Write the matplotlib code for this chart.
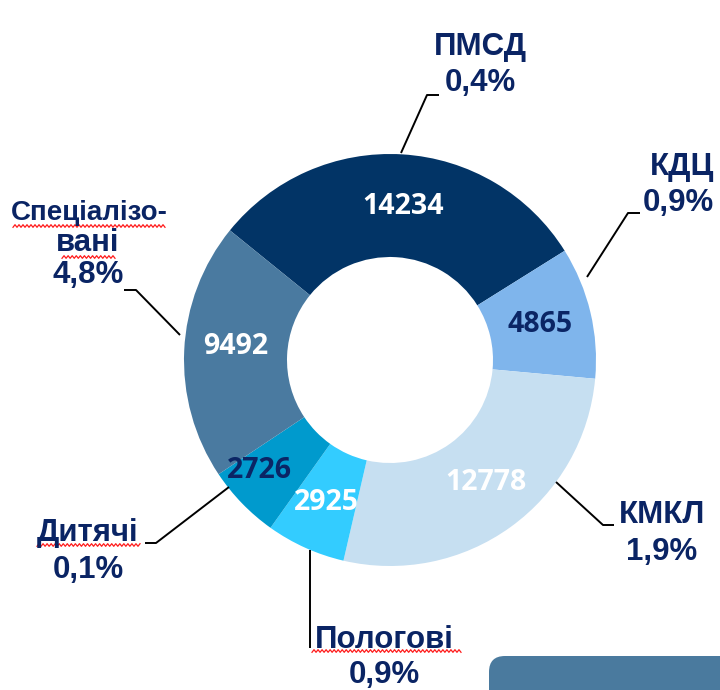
import numpy as np
import matplotlib
matplotlib.use("Agg")
import matplotlib.pyplot as plt
from matplotlib.patches import FancyBboxPatch

# ---- data ----
categories = ["ПМСД", "КДЦ", "КМКЛ", "Пологові", "Дитячі", "Спеціалізо-\nвані"]
values = [14234, 4865, 12778, 2925, 2726, 9492]
shares = ["0,4%", "0,9%", "1,9%", "0,9%", "0,1%", "4,8%"]
colors = ["#023466", "#7FB5EC", "#C6DFF1", "#33CCFF", "#009ACD", "#4A7AA0"]
value_colors = ["white", "#0B2565", "white", "white", "#0B2565", "white"]

W, H = 720, 690
fig = plt.figure(figsize=(7.2, 6.9), dpi=100)
ax = fig.add_axes([0, 0, 1, 1])

def Y(py):
    return H - py

cx, cy, R = 390, Y(360), 206
wedges, _ = ax.pie(values, colors=colors, startangle=141, counterclock=False,
                   center=(cx, cy), radius=R, frame=True,
                   wedgeprops=dict(width=R * 0.5, linewidth=0))
ax.set_xlim(0, W)
ax.set_ylim(0, H)
ax.set_aspect("equal")
ax.axis("off")

# value labels (pixel positions)
val_pos = [(403, 207), (540, 325), (486, 483), (326, 503), (259, 471), (236, 347)]
for v, (px, py), c in zip(values, val_pos, value_colors):
    ax.text(px, Y(py), str(v), ha="center", va="center", fontsize=20.5,
            fontweight="bold", color=c, family="Open Sans")

navy = "#0A2464"
lab_font = dict(family="Liberation Sans", fontweight="bold", fontsize=22.5, color=navy)

# category labels + shares
name_pos = [(480, 47), (682, 167), (662, 515), (384, 640), (88, 533), None]
share_pos = [(480, 83), (678, 203), (662, 552), (384, 675), (88, 570), (88, 275)]
for i in range(6):
    if name_pos[i] is not None:
        ax.text(name_pos[i][0], Y(name_pos[i][1]), categories[i], ha="center",
                va="center", **lab_font)
    ax.text(share_pos[i][0], Y(share_pos[i][1]), shares[i], ha="center",
            va="center", **lab_font)
# two-line label for Спеціалізовані
first, second = categories[5].split("\n")
small = dict(lab_font, fontsize=20)
ax.text(89, Y(213), first, ha="center", va="center", **small)
ax.text(88, Y(243), second, ha="center", va="center", **lab_font)

# leader lines
leaders = [
    [(401, 153), (427, 95), (439, 95)],
    [(587, 277), (628, 213), (640, 213)],
    [(556, 482), (603, 525), (614, 525)],
    [(310, 550), (310, 648)],
    [(229, 487), (156, 543), (145, 543)],
    [(180, 335), (136, 290), (124, 290)],
]
for pts in leaders:
    xs = [p[0] for p in pts]
    ys = [Y(p[1]) for p in pts]
    ax.plot(xs, ys, color="black", lw=1.4, solid_capstyle="butt")

# red spell-check squiggles
def squiggle(x0, x1, py):
    n = int((x1 - x0) / 2)
    xs = np.linspace(x0, x1, n + 1)
    ys = np.array([Y(py) + (1.3 if k % 2 else -1.3) for k in range(n + 1)])
    ax.plot(xs, ys, color="#FF1A1A", lw=0.9)

squiggle(13, 165, 226)
squiggle(62, 115, 257)
squiggle(37, 140, 545)
squiggle(312, 461, 651)

# partial box bottom-right
box = FancyBboxPatch((489, Y(720)), 300, 64, boxstyle="round,pad=0,rounding_size=16",
                     facecolor="#4A7A9E", edgecolor="none")
ax.add_patch(box)

fig.savefig("out.png", dpi=100)
